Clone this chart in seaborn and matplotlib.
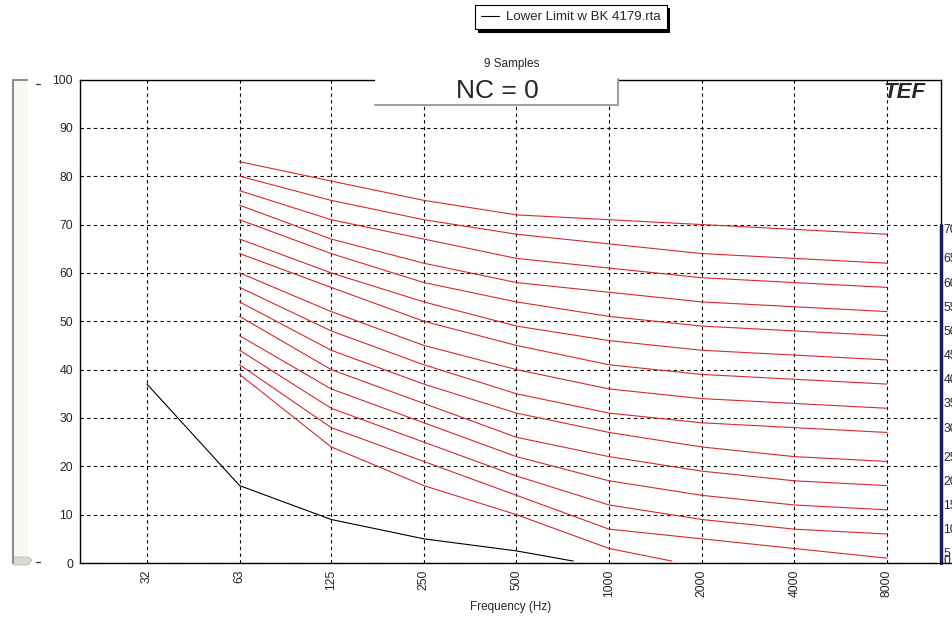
import numpy as np
import pandas as pd
import matplotlib
matplotlib.use("Agg")
import matplotlib.pyplot as plt
from matplotlib.lines import Line2D
from matplotlib.patches import Rectangle, Polygon
import seaborn as sns

# octave band centres
freqs = [63, 125, 250, 500, 1000, 2000, 4000, 8000]
tick_freqs = [31.5, 63, 125, 250, 500, 1000, 2000, 4000, 8000]
tick_labels = ["32", "63", "125", "250", "500", "1000", "2000", "4000", "8000"]

# NC curves, levels in dB per octave band
nc_names = [70, 65, 60, 55, 50, 45, 40, 35, 30, 25, 20, 15, 10, 5, 0]
nc70 = [83, 79, 75, 72, 71, 70, 69, 68]
nc65 = [80, 75, 71, 68, 66, 64, 63, 62]
nc60 = [77, 71, 67, 63, 61, 59, 58, 57]
nc55 = [74, 67, 62, 58, 56, 54, 53, 52]
nc50 = [71, 64, 58, 54, 51, 49, 48, 47]
nc45 = [67, 60, 54, 49, 46, 44, 43, 42]
nc40 = [64, 57, 50, 45, 41, 39, 38, 37]
nc35 = [60, 52, 45, 40, 36, 34, 33, 32]
nc30 = [57, 48, 41, 35, 31, 29, 28, 27]
nc25 = [54, 44, 37, 31, 27, 24, 22, 21]
nc20 = [51, 40, 33, 26, 22, 19, 17, 16]
nc15 = [47, 36, 29, 22, 17, 14, 12, 11]
nc10 = [44, 32, 25, 18, 12, 9, 7, 6]
nc05 = [41, 28, 21, 14, 7, 5, 3, 1]
nc00_freqs = [63, 125, 250, 500, 1000, 1600]
nc00 = [39, 24, 16, 10, 3, 0.4]

# measured lower limit
limit_freqs = [31.5, 63, 125, 250, 500, 765]
limit_vals = [37, 16, 9, 5, 2.5, 0.4]
limit_label = "Lower Limit w BK 4179.rta"

curves = [nc70, nc65, nc60, nc55, nc50, nc45, nc40, nc35, nc30, nc25,
          nc20, nc15, nc10, nc05]
rows = []
for name, vals in zip(nc_names[:-1], curves):
    for f, v in zip(freqs, vals):
        rows.append({"curve": "NC-%d" % name, "freq": f, "level": v})
for f, v in zip(nc00_freqs, nc00):
    rows.append({"curve": "NC-0", "freq": f, "level": v})
df = pd.DataFrame(rows)
lim = pd.DataFrame({"freq": limit_freqs, "level": limit_vals})

sns.set_style("white")
plt.rcParams["font.family"] = ["Liberation Sans", "DejaVu Sans"]

W, H = 953, 618
fig = plt.figure(figsize=(W / 100, H / 100), dpi=100)
ax = fig.add_axes([80 / W, 55 / H, (941 - 80) / W, (563 - 79.5) / H])

red = "#d8282c"
order = ["NC-%d" % n for n in nc_names]
sns.lineplot(data=df, x="freq", y="level", hue="curve", hue_order=order,
             palette=[red] * len(order), estimator=None, sort=False,
             linewidth=0.8, legend=False, ax=ax, zorder=3)
sns.lineplot(data=lim, x="freq", y="level", color="black", estimator=None,
             sort=False, linewidth=0.8, ax=ax, zorder=3)

ax.set_xscale("log", base=2)
ax.set_xlim(19.08, 11985)
ax.set_ylim(0, 100)
ax.set_xticks(tick_freqs)
ax.set_xticklabels(tick_labels, rotation=90, fontsize=8.8)
ax.minorticks_off()
ax.set_yticks(np.arange(0, 101, 10))
ax.set_yticklabels([str(v) for v in range(0, 101, 10)], fontsize=8.8)
ax.tick_params(axis="both", length=3, width=0.8, pad=2, color="black")
ax.set_xlabel("Frequency (Hz)", fontsize=8.5, labelpad=3)
ax.set_ylabel("")
ax.grid(True, color="black", linestyle=(0, (3, 3)), linewidth=0.8)
for s in ax.spines.values():
    s.set_color("black")
    s.set_linewidth(1)

# NC scale on the right edge
ax.plot([1, 1], [0, 70], transform=ax.get_yaxis_transform(), color="#1c1c60",
        linewidth=2.5, clip_on=False, zorder=6)
ends = [c[-1] for c in curves] + [0]
for name, e in zip(nc_names, ends):
    yy = e + 0.8 if name > 0 else 0.5
    ax.text(1.003, yy, str(name), transform=ax.get_yaxis_transform(),
            ha="left", va="center", fontsize=8.8, clip_on=False)


def fx(px):
    return px / W


def fy(py):
    return 1 - py / H


# bottom spine runs to the edge
fig.add_artist(Line2D([fx(941), fx(953)], [fy(563), fy(563)], color="black", lw=1))

# title box
fig.add_artist(Rectangle((fx(375), fy(105)), fx(618) - fx(375), fy(72) - fy(105),
                         facecolor="white", edgecolor="none", zorder=5))
fig.add_artist(Line2D([fx(375), fx(618)], [fy(105), fy(105)], color="#a0a0a0", lw=1.5, zorder=6))
fig.add_artist(Line2D([fx(618), fx(618)], [fy(79), fy(105)], color="#a0a0a0", lw=1.5, zorder=6))
fig.text(fx(512), fy(64), "9 Samples", ha="center", va="center", fontsize=8.5)
fig.text(fx(497), fy(91), "NC = 0", ha="center", va="center", fontsize=19, zorder=7)

# logo
fig.text(fx(904), fy(93), "TEF", ha="center", va="center", fontsize=16,
         fontweight="heavy", fontstyle="italic")

# slider on the left
fig.add_artist(Rectangle((fx(13), fy(563)), fx(28) - fx(13), fy(80) - fy(563),
                         facecolor="#f8f8f0", edgecolor="none"))
fig.add_artist(Line2D([fx(13.5), fx(13.5)], [fy(80), fy(563)], color="#8c8c8c", lw=1.5))
fig.add_artist(Line2D([fx(13), fx(27)], [fy(80), fy(80)], color="#8c8c8c", lw=1.5))
fig.add_artist(Polygon([(fx(13), fy(557)), (fx(28), fy(557)), (fx(32), fy(560)),
                        (fx(28), fy(565)), (fx(13), fy(565))],
                       closed=True, facecolor="#dedac8", edgecolor="#b0b0a0", lw=0.5))
fig.add_artist(Line2D([fx(36), fx(40)], [fy(84), fy(84)], color="#404040", lw=1))
fig.add_artist(Line2D([fx(36), fx(40)], [fy(562), fy(562)], color="#404040", lw=1))

# legend
leg = fig.legend(handles=[Line2D([], [], color="black", lw=0.8)], labels=[limit_label],
                 loc="upper left", bbox_to_anchor=(fx(475), fy(5)), borderaxespad=0,
                 frameon=True, fancybox=False, edgecolor="black",
                 shadow={"facecolor": "black", "edgecolor": "black", "alpha": 1},
                 fontsize=9.5, handlelength=1.4, handletextpad=0.5, borderpad=0.45)
leg.get_frame().set_linewidth(0.8)

fig.savefig("out.png", dpi=100, facecolor="white")
